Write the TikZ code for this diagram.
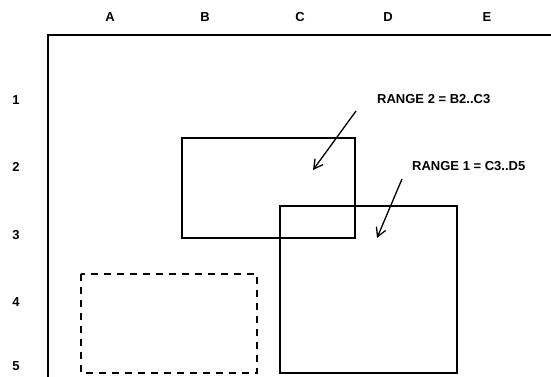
\documentclass[tikz,border=0pt]{standalone}
\usepackage{fontspec}
\setmainfont{Liberation Sans}
\usetikzlibrary{arrows.meta,positioning}

\begin{document}
\begin{tikzpicture}[
  x=1pt, y=-1pt,
  hdr/.style={font=\bfseries\fontsize{13}{15}\selectfont, inner sep=0pt},
  lbl/.style={font=\bfseries\fontsize{13}{15}\selectfont, inner sep=0pt, anchor=west},
  rng/.style={draw, line width=1.5pt},
  dsh/.style={draw, line width=1.5pt, dash pattern=on 7pt off 6pt},
  arrow/.style={-{Straight Barb[length=9pt,width=10pt]}, line width=1.3pt}
]
\useasboundingbox (0,0) rectangle (551,377);

% Sheet frame
\coordinate (corner) at (48,35);
\coordinate (topend) at (551,35);
\coordinate (leftend) at (48,377);
\draw[line width=1.8pt] (leftend) -- (corner) -- (topend);

% Column headers
\node[hdr] (colA) at (110,17) {A};
\node[hdr] (colB) at (205,17) {B};
\node[hdr] (colC) at (300,17) {C};
\node[hdr] (colD) at (388,17) {D};
\node[hdr] (colE) at (487,17) {E};

% Row headers
\node[hdr] (row1) at (16,100) {1};
\node[hdr] (row2) at (16,167) {2};
\node[hdr] (row3) at (16,235) {3};
\node[hdr] (row4) at (16,302) {4};
\node[hdr] (row5) at (16,366) {5};

% Ranges
\draw[rng] (182,138) rectangle (355,238);
\draw[rng] (280,206) rectangle (457,373);
\draw[dsh] (81,274) rectangle (257,373);

% Labels
\node[lbl] (range2) at (377,99) {RANGE 2 = B2..C3};
\node[lbl] (range1) at (412,166) {RANGE 1 = C3..D5};

% Pointers
\coordinate (from2) at (356,111);
\coordinate (tip2) at (313,170);
\coordinate (from1) at (402,179);
\coordinate (tip1) at (377,238);
\draw[arrow] (from2) -- (tip2);
\draw[arrow] (from1) -- (tip1);

\end{tikzpicture}
\end{document}
